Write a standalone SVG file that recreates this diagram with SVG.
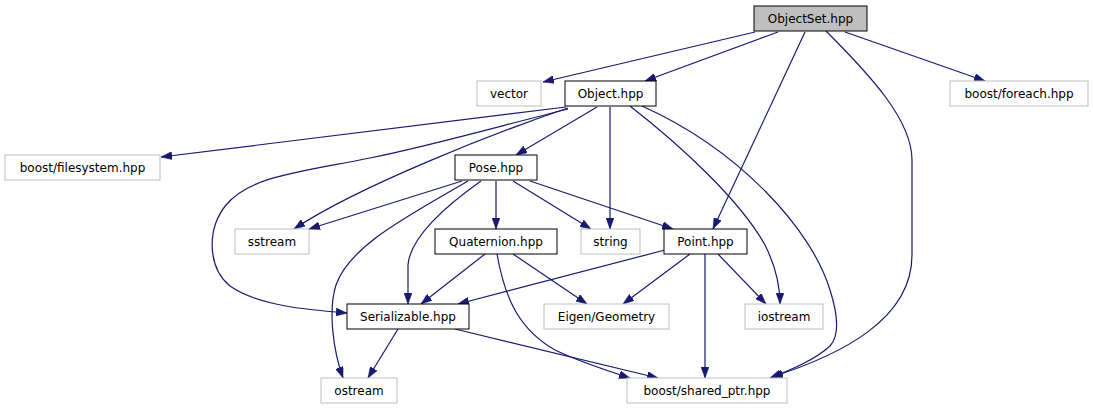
<svg xmlns="http://www.w3.org/2000/svg" width="1093" height="411" viewBox="0 0 1093 411">
<style>
.n rect{fill:#fff;stroke:#000;stroke-width:1}
.g rect{fill:#fff;stroke:#bfbfbf;stroke-width:1}
.root rect{fill:#bfbfbf;stroke:#000;stroke-width:1}
text{font-family:"DejaVu Sans","Liberation Sans",sans-serif;font-size:12px;fill:#000;text-anchor:middle}
#edges path{fill:none;stroke:#191970;stroke-width:1.2;marker-end:url(#ah)}
</style>
<defs>
<marker id="ah" markerUnits="userSpaceOnUse" markerWidth="11" markerHeight="8" refX="11" refY="4" orient="auto">
<path d="M0,0 L11,4 L0,8 z" fill="#191970" stroke="#191970" stroke-width="0.5"/>
</marker>
</defs>
<rect width="1093" height="411" fill="#fff"/>
<g id="edges">
<path d="M755,32 L543,82"/>
<path d="M778,32 L645,81"/>
<path d="M805,32 L713,229"/>
<path d="M826,31 C870,75 912,120 912,160 L912,255 C912,320 840,355 772,377"/>
<path d="M845,32 L985,81"/>
<path d="M566,107 L161,157"/>
<path d="M568,108 C500,131 360,185 294,229"/>
<path d="M568,109 C500,126 430,146 370,158 C300,172 250,176 226,205 C206,230 208,268 230,286 C258,306 310,310 347,313"/>
<path d="M597,107 L516,155"/>
<path d="M610,107 L610,229"/>
<path d="M630,106 C680,145 740,200 765,245 C775,265 780,285 780,304"/>
<path d="M642,106 C740,150 812,230 830,290 C838,315 840,335 830,346 C815,360 790,370 770,378"/>
<path d="M462,181 L309,229"/>
<path d="M468,181 C410,215 350,245 336,285 C328,310 333,350 343,378"/>
<path d="M481,181 C440,210 410,240 408,265 L408,304"/>
<path d="M496,181 L496,229"/>
<path d="M513,181 L591,229"/>
<path d="M530,181 L673,229"/>
<path d="M485,254 L421,304"/>
<path d="M513,254 L587,304"/>
<path d="M497,254 C505,300 520,330 555,350 C580,362 605,370 630,378"/>
<path d="M665,250 L458,304"/>
<path d="M690,254 L623,304"/>
<path d="M705,254 L705,378"/>
<path d="M718,254 L766,304"/>
<path d="M455,329 L658,378"/>
<path d="M398,329 L368,378"/>
</g>
<g id="ObjectSet" class="root"><rect x="754" y="6" width="113" height="25"/><text x="810.5" y="23">ObjectSet.hpp</text></g>
<g id="vector" class="g"><rect x="477" y="81" width="64" height="25"/><text x="509" y="98">vector</text></g>
<g id="Object" class="n"><rect x="565" y="81" width="91" height="25"/><text x="610.5" y="98">Object.hpp</text></g>
<g id="foreach" class="g"><rect x="950" y="81" width="138" height="25"/><text x="1019" y="98">boost/foreach.hpp</text></g>
<g id="filesystem" class="g"><rect x="5" y="155" width="155" height="25"/><text x="82.5" y="172">boost/filesystem.hpp</text></g>
<g id="Pose" class="n"><rect x="455" y="155" width="82" height="25"/><text x="496" y="172">Pose.hpp</text></g>
<g id="sstream" class="g"><rect x="235" y="229" width="74" height="25"/><text x="272" y="246">sstream</text></g>
<g id="Quaternion" class="n"><rect x="435" y="229" width="122" height="25"/><text x="496" y="246">Quaternion.hpp</text></g>
<g id="string" class="g"><rect x="581" y="229" width="59" height="25"/><text x="610.5" y="246">string</text></g>
<g id="Point" class="n"><rect x="664" y="229" width="83" height="25"/><text x="705.5" y="246">Point.hpp</text></g>
<g id="Serializable" class="n"><rect x="347" y="304" width="122" height="25"/><text x="408" y="321">Serializable.hpp</text></g>
<g id="Eigen" class="g"><rect x="544" y="304" width="125" height="25"/><text x="606.5" y="321">Eigen/Geometry</text></g>
<g id="iostream" class="g"><rect x="745" y="304" width="78" height="25"/><text x="784" y="321">iostream</text></g>
<g id="ostream" class="g"><rect x="321" y="378" width="76" height="25"/><text x="359" y="395">ostream</text></g>
<g id="shared_ptr" class="g"><rect x="627" y="378" width="160" height="25"/><text x="707" y="395">boost/shared_ptr.hpp</text></g>
</svg>
